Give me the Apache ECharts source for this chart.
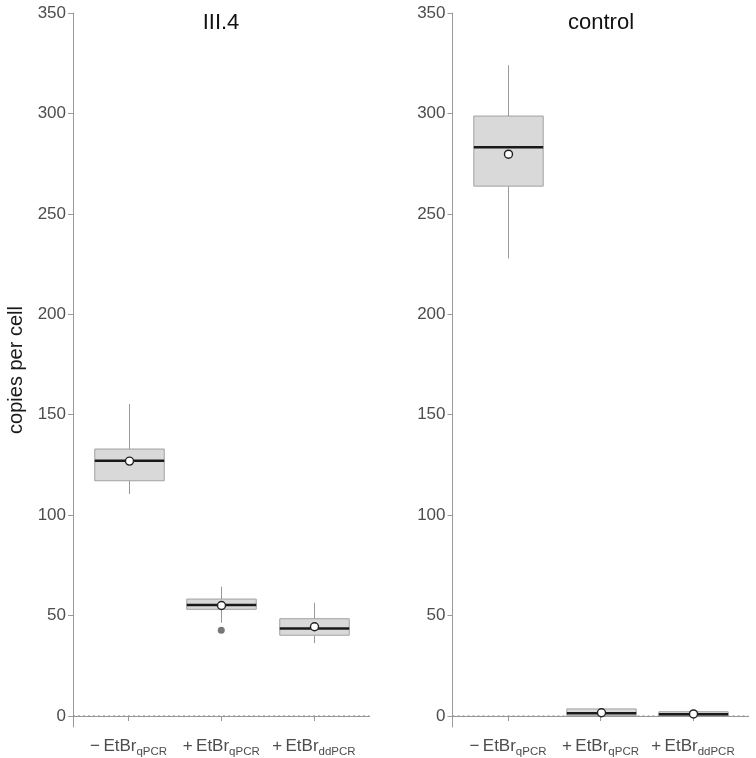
<!DOCTYPE html>
<html><head><meta charset="utf-8">
<script src="https://cdn.jsdelivr.net/npm/echarts@6/dist/echarts.min.js"></script>
<style>html,body{margin:0;padding:0;background:#fff}#c{width:756px;height:758px}</style>
</head><body><div id="c"></div>
<script>
// ---- data ----
const panelTitles = ['III.4', 'control'];
const categoryPositions = [1, 2, 3];
const labelSigns = ['\u2212', '+', '+'];
const labelSubs = ['qPCR', 'qPCR', 'ddPCR'];
const yTicks = [0, 50, 100, 150, 200, 250, 300, 350];

// III.4 panel
const iii4Low  = [110.5, 46.4, 36.2];
const iii4Q1   = [117.1, 53.1, 40.2];
const iii4Med  = [127.1, 55.3, 43.5];
const iii4Q3   = [132.9, 58.2, 48.4];
const iii4High = [155.3, 64.4, 56.4];
const iii4Mean = [126.9, 55.0, 44.4];
const iii4Outliers = [[2, 42.7]];

// control panel
const ctrlLow  = [227.8, 0.1, 0.1];
const ctrlQ1   = [263.8, 0.1, 0.1];
const ctrlMed  = [283.1, 1.3, 0.8];
const ctrlQ3   = [298.7, 3.5, 2.1];
const ctrlHigh = [324.0, 3.6, 2.2];
const ctrlMean = [279.7, 1.6, 1.0];
const ctrlOutliers = [];

// ---- build ----
const FONT = 'Liberation Sans, Arial, sans-serif';
function rows(low, q1, med, q3, high, mean) {
  return categoryPositions.map((x, i) => [x, low[i], q1[i], med[i], q3[i], high[i], mean[i]]);
}
const BOX_W = 0.75;
function renderBox(params, api) {
  const x = api.value(0);
  const pLow = api.coord([x, api.value(1)]);
  const pQ1 = api.coord([x, api.value(2)]);
  const pMed = api.coord([x, api.value(3)]);
  const pQ3 = api.coord([x, api.value(4)]);
  const pHigh = api.coord([x, api.value(5)]);
  const pMean = api.coord([x, api.value(6)]);
  const hw = api.size([BOX_W, 0])[0] / 2;
  const cx = Math.round(pMed[0]) + 0.5;
  return {
    type: 'group',
    children: [
      {type: 'line', shape: {x1: cx, y1: pHigh[1], x2: cx, y2: pQ3[1]}, style: {stroke: '#999999', lineWidth: 1}},
      {type: 'line', shape: {x1: cx, y1: pQ1[1], x2: cx, y2: pLow[1]}, style: {stroke: '#999999', lineWidth: 1}},
      {type: 'rect', shape: {x: cx - hw, y: pQ3[1], width: 2 * hw, height: pQ1[1] - pQ3[1]},
        style: {fill: '#d9d9d9', stroke: '#a0a0a0', lineWidth: 1}},
      {type: 'line', shape: {x1: cx - hw, y1: pMed[1], x2: cx + hw, y2: pMed[1]}, style: {stroke: '#1a1a1a', lineWidth: 2.5}},
      {type: 'circle', shape: {cx: cx, cy: pMean[1], r: 4}, style: {fill: '#ffffff', stroke: '#222222', lineWidth: 1.4}}
    ]
  };
}

function xAxisFor(gi) {
  return {
    type: 'value', gridIndex: gi, min: 0.4, max: 3.6,
    splitLine: {show: false},
    axisLine: {show: true, lineStyle: {color: '#9a9a9a', width: 1}},
    axisTick: {show: true, customValues: categoryPositions, length: 5, lineStyle: {color: '#9a9a9a'}},
    axisLabel: {
      customValues: categoryPositions, margin: 8,
      formatter: v => `{m|${labelSigns[v - 1]}\u2009EtBr}{s|${labelSubs[v - 1]}}`,
      rich: {
        m: {fontFamily: FONT, fontSize: 17, color: '#4d4d4d', lineHeight: 20, verticalAlign: 'bottom'},
        s: {fontFamily: FONT, fontSize: 11.5, color: '#4d4d4d', lineHeight: 14, verticalAlign: 'bottom', padding: [0, 0, -3, 0]}
      }
    }
  };
}
function yAxisFor(gi, name) {
  return {
    type: 'value', gridIndex: gi, min: -5.5, max: 350,
    splitLine: {show: false},
    axisLine: {show: true, lineStyle: {color: '#9a9a9a', width: 1}},
    axisTick: {show: true, customValues: yTicks, length: 5, lineStyle: {color: '#9a9a9a'}},
    axisLabel: {customValues: yTicks, margin: 7, fontFamily: FONT, fontSize: 17, color: '#4d4d4d'},
    name: name || '', nameLocation: 'middle', nameGap: 47, nameRotate: 90,
    nameTextStyle: {fontFamily: FONT, fontSize: 20, color: '#1a1a1a'}
  };
}

const panels = [
  {data: rows(iii4Low, iii4Q1, iii4Med, iii4Q3, iii4High, iii4Mean), out: iii4Outliers},
  {data: rows(ctrlLow, ctrlQ1, ctrlMed, ctrlQ3, ctrlHigh, ctrlMean), out: ctrlOutliers}
];

const series = [];
panels.forEach((p, gi) => {
  series.push({
    type: 'line', xAxisIndex: gi, yAxisIndex: gi, data: [[0.4, 0], [3.6, 0]],
    symbol: 'none', silent: true, z: 1,
    lineStyle: {color: '#8c8c8c', width: 1, type: [2, 3]}
  });
  series.push({
    type: 'custom', xAxisIndex: gi, yAxisIndex: gi, data: p.data, z: 3,
    encode: {x: 0, y: [1, 2, 3, 4, 5, 6]}, renderItem: renderBox, silent: true
  });
  series.push({
    type: 'scatter', xAxisIndex: gi, yAxisIndex: gi, data: p.out, z: 4,
    symbolSize: 7, itemStyle: {color: '#555555'}, silent: true
  });
});

const chart = echarts.init(document.getElementById('c'), null, {renderer: 'canvas'});
chart.setOption({
  animation: false,
  backgroundColor: '#ffffff',
  grid: [
    {left: 73, top: 13, width: 296.5, height: 714},
    {left: 452.5, top: 13, width: 296, height: 714}
  ],
  xAxis: [xAxisFor(0), xAxisFor(1)],
  yAxis: [yAxisFor(0, 'copies per cell'), yAxisFor(1, '')],
  graphic: [
    {type: 'text', x: 221, y: 23, style: {text: panelTitles[0], font: '22px ' + FONT, fill: '#111111', textAlign: 'center', textVerticalAlign: 'middle'}},
    {type: 'text', x: 601, y: 23, style: {text: panelTitles[1], font: '22px ' + FONT, fill: '#111111', textAlign: 'center', textVerticalAlign: 'middle'}}
  ],
  series: series
});
</script>
</body></html>
